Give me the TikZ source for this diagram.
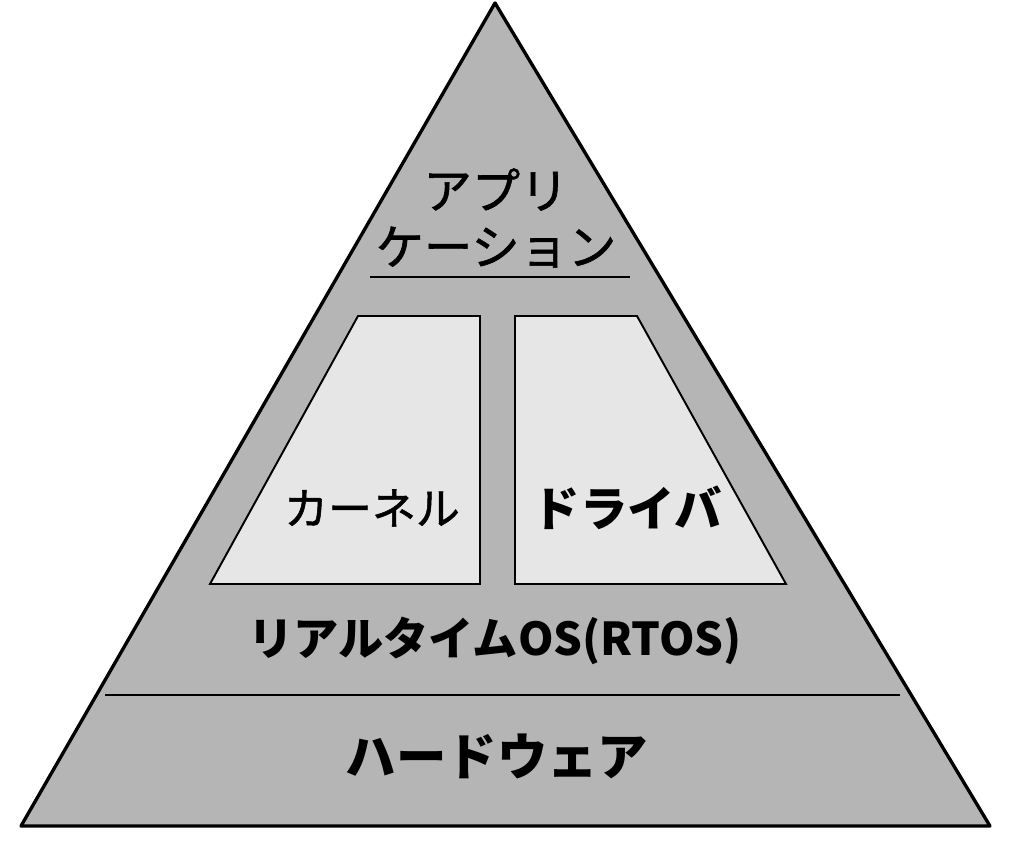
\documentclass[tikz,border=0pt]{standalone}
\usepackage{fontspec}
\newfontfamily\jpfont{Noto Sans CJK JP}
\newfontfamily\jpmid{Noto Sans CJK JP}[FakeBold=1.2]
\usetikzlibrary{positioning}
\definecolor{layergray}{HTML}{B5B5B5}
\definecolor{boxgray}{HTML}{E6E6E6}
\tikzset{
pyramid/.style={draw=black,line width=1.9pt,fill=layergray,line join=round},
module/.style={draw=black,line width=1.1pt,fill=boxgray},
divider/.style={line width=1.1pt},
tag/.style={font=\jpmid\fontsize{27.5}{32}\selectfont,align=center,inner sep=0pt},
}

\begin{document}
\begin{tikzpicture}[x=0.02cm,y=-0.02cm]
                    \useasboundingbox (0,0) rectangle (1024,853);
                    \draw[pyramid] (495,3) -- (990,826) -- (21,826) -- cycle;
                    \draw[divider] (370,277) -- (630,277);
                    \draw[divider] (105,695) -- (900,695);
                    \draw[module] (358,316) -- (480,316) -- (480,584) -- (210,584) -- cycle;
                    \draw[module] (515,316) -- (637,316) -- (786,584) -- (515,584) -- cycle;
                    
                    \node[tag] (app) at (496,218) {アプリ\\ケーション};
                    \node[tag,font=\jpmid\fontsize{25}{32}\selectfont] (kernel) at (372,508) {カーネル};
                    \node[tag,font=\jpfont\bfseries\fontsize{27}{32}\selectfont] (driver) at (627,508) {ドライバ};
                    \node[tag,font=\jpfont\bfseries] (rtos) at (495,641) {\resizebox{9.88cm}{!}{リアルタイムOS(RTOS)}};
                    \node[tag,font=\jpfont\bfseries] (hw) at (497,756) {\resizebox{6.05cm}{!}{ハードウェア}};
                \end{tikzpicture}
\end{document}
